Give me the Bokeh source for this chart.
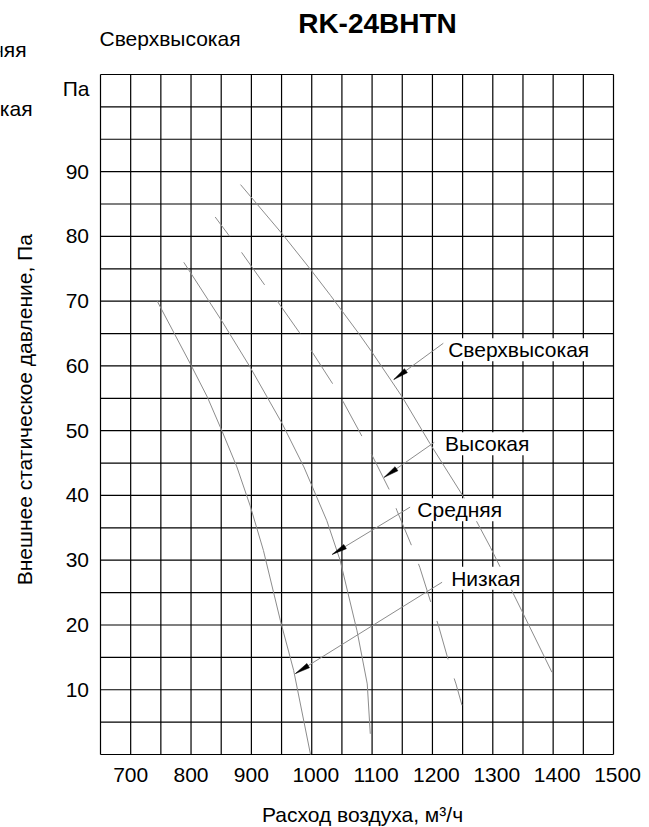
import numpy as np
from bokeh.plotting import figure
from bokeh.models import Label, Range1d
from bokeh.embed import file_html
from bokeh.resources import INLINE
from bokeh.core.properties import value

# ---------------- data ----------------
low_x = [744, 799, 827, 852, 876, 898, 920, 948, 970, 998]
low_y = [70.0, 60.3, 55.2, 49.8, 44.4, 38.4, 31.5, 20.7, 13.0, 0.0]

mid_x = [788, 852, 898, 951, 987, 1025, 1047, 1075, 1092, 1097]
mid_y = [76.0, 66.8, 59.8, 51.1, 44.4, 36.1, 30.0, 19.1, 10.9, 3.2]

high_x = [840, 864, 884, 922, 943, 980, 999, 1035, 1052, 1084,
          1100, 1129, 1141, 1167, 1179, 1199, 1210, 1228, 1239, 1249]
high_y = [83.0, 80.0, 77.5, 72.5, 70.0, 65.1, 62.4, 57.2, 54.5, 49.0,
          46.2, 40.8, 37.7, 31.9, 28.9, 23.0, 19.9, 14.0, 10.9, 7.6]

top_x = [882, 951, 998, 1031, 1078, 1100, 1150, 1196, 1252, 1296, 1348, 1398]
top_y = [88.0, 80.4, 74.9, 70.9, 65.0, 62.1, 55.2, 48.0, 39.7, 32.0, 22.2, 12.7]

speed_names = ["Сверхвысокая", "Высокая", "Средняя", "Низкая"]
name_x = [1226, 1221, 1175, 1231]
name_y = [62.5, 48.0, 37.8, 27.2]
leader_x = [1218, 1203, 1163, 1216]
leader_y = [63.5, 48.2, 38.2, 26.6]
tip_x = [1136, 1120, 1034, 973]
tip_y = [57.9, 42.8, 30.9, 12.5]

x_ticks = [700, 800, 900, 1000, 1100, 1200, 1300, 1400, 1500]
x_tick_labels = ["700", "800", "900", "1000", "1100", "1200", "1300", "1400", "1500"]
y_ticks = [10, 20, 30, 40, 50, 60, 70, 80, 90]
y_tick_labels = ["10", "20", "30", "40", "50", "60", "70", "80", "90"]

title_text = "RK-24BHTN"
x_title = "Расход воздуха, м³/ч"
y_title = "Внешнее статическое давление, Па"
y_unit = "Па"

# ---------------- layout ----------------
W, H = 649, 827
X0, X1, XSTEP = 650, 1500, 50
Y0, Y1, YSTEP = 0, 105, 5
GL, GR, GT, GB = 100, 613, 74, 754          # grid box in canvas pixels
kx = (GR - GL) / (X1 - X0)                   # px per data unit
ky = (GB - GT) / (Y1 - Y0)
FONT = "Liberation Sans"
GRAY = "#8c8c8c"


def dx(px):
    return X0 + (px - GL) / kx


def dy(py):
    return Y0 + (GB - py) / ky


p = figure(width=W, height=H,
           x_range=Range1d(dx(0), dx(W)), y_range=Range1d(dy(H), dy(0)),
           x_axis_type=None, y_axis_type=None,
           output_backend="svg", toolbar_location=None,
           min_border=0, min_border_left=0, min_border_right=0,
           min_border_top=0, min_border_bottom=0)
p.title.visible = False
p.background_fill_color = "white"
p.border_fill_color = "white"
p.outline_line_color = None
p.xgrid.visible = False
p.ygrid.visible = False

# grid cells
gx = np.arange(X0, X1 + 1, XSTEP)
gy = np.arange(Y0, Y1 + 1, YSTEP)
p.segment(x0=gx, y0=[Y0] * len(gx), x1=gx, y1=[Y1] * len(gx),
          line_color="black", line_width=1.2)
p.segment(x0=[X0] * len(gy), y0=gy, x1=[X1] * len(gy), y1=gy,
          line_color="black", line_width=1.2)

# curves
p.line(low_x, low_y, line_color=GRAY, line_width=1)
p.line(mid_x, mid_y, line_color=GRAY, line_width=1)
p.line(high_x, high_y, line_color=GRAY, line_width=1,
       line_dash="40 20", line_dash_offset=16)
p.line(top_x, top_y, line_color=GRAY, line_width=1)

# leader lines
p.segment(x0=leader_x, y0=leader_y, x1=tip_x, y1=tip_y,
          line_color=GRAY, line_width=1)

# narrow arrow heads (built in pixel space, then mapped back to data)
head_len, head_w = 15.0, 5.0
hx, hy = [], []
for sx0, sy0, tx, ty in zip(leader_x, leader_y, tip_x, tip_y):
    ddx = (tx - sx0) * kx
    ddy = (ty - sy0) * ky
    n = np.hypot(ddx, ddy)
    ux, uy = ddx / n, ddy / n
    bx = tx - ux * head_len / kx
    by = ty - uy * head_len / ky
    qx, qy = -uy, ux
    hx.append([tx, bx + qx * head_w / 2 / kx, bx - qx * head_w / 2 / kx])
    hy.append([ty, by + qy * head_w / 2 / ky, by - qy * head_w / 2 / ky])
p.patches(hx, hy, fill_color="black", line_color="black", line_width=0.5)

# tick labels
x_off = [4 if t >= 1000 else 0 for t in x_ticks]
p.text(x=x_ticks, y=[dy(774)] * len(x_ticks), text=x_tick_labels, x_offset=x_off,
       text_font=value(FONT), text_font_size="21px", text_color="black",
       text_align="center", text_baseline="middle")
p.text(x=[dx(88.5)] * len(y_ticks), y=y_ticks, text=y_tick_labels,
       text_font=value(FONT), text_font_size="21px", text_color="black",
       text_align="right", text_baseline="middle")


def lab(x, y, text, size="21px", align="left", bold=False, angle=0, bg=None):
    p.add_layout(Label(x=x, y=y, text=text, text_font=FONT, text_font_size=size,
                       text_font_style="bold" if bold else "normal",
                       text_color="black", text_align=align, text_baseline="middle",
                       angle=angle, angle_units="deg",
                       background_fill_color=bg))


# curve labels with white boxes
for t, x, y in zip(speed_names, name_x, name_y):
    lab(x, y, t, bg="white")

# axis titles and unit
lab(dx(89), dy(88.3), y_unit, align="right")
lab(dx(362), dy(814.2), x_title, align="center")
lab(dx(23.5), dy(409.2), y_title, align="center", angle=90)

# title
lab(dx(377), dy(23), title_text, size="28px", align="center", bold=True)

# stray labels at the top left (as in the reference)
lab(dx(99), dy(37.5), speed_names[0], align="left")
lab(dx(26), dy(49), speed_names[2], align="right")
lab(dx(32), dy(107.5), speed_names[1], align="right")

open("out.html", "w").write(file_html(p, INLINE))
